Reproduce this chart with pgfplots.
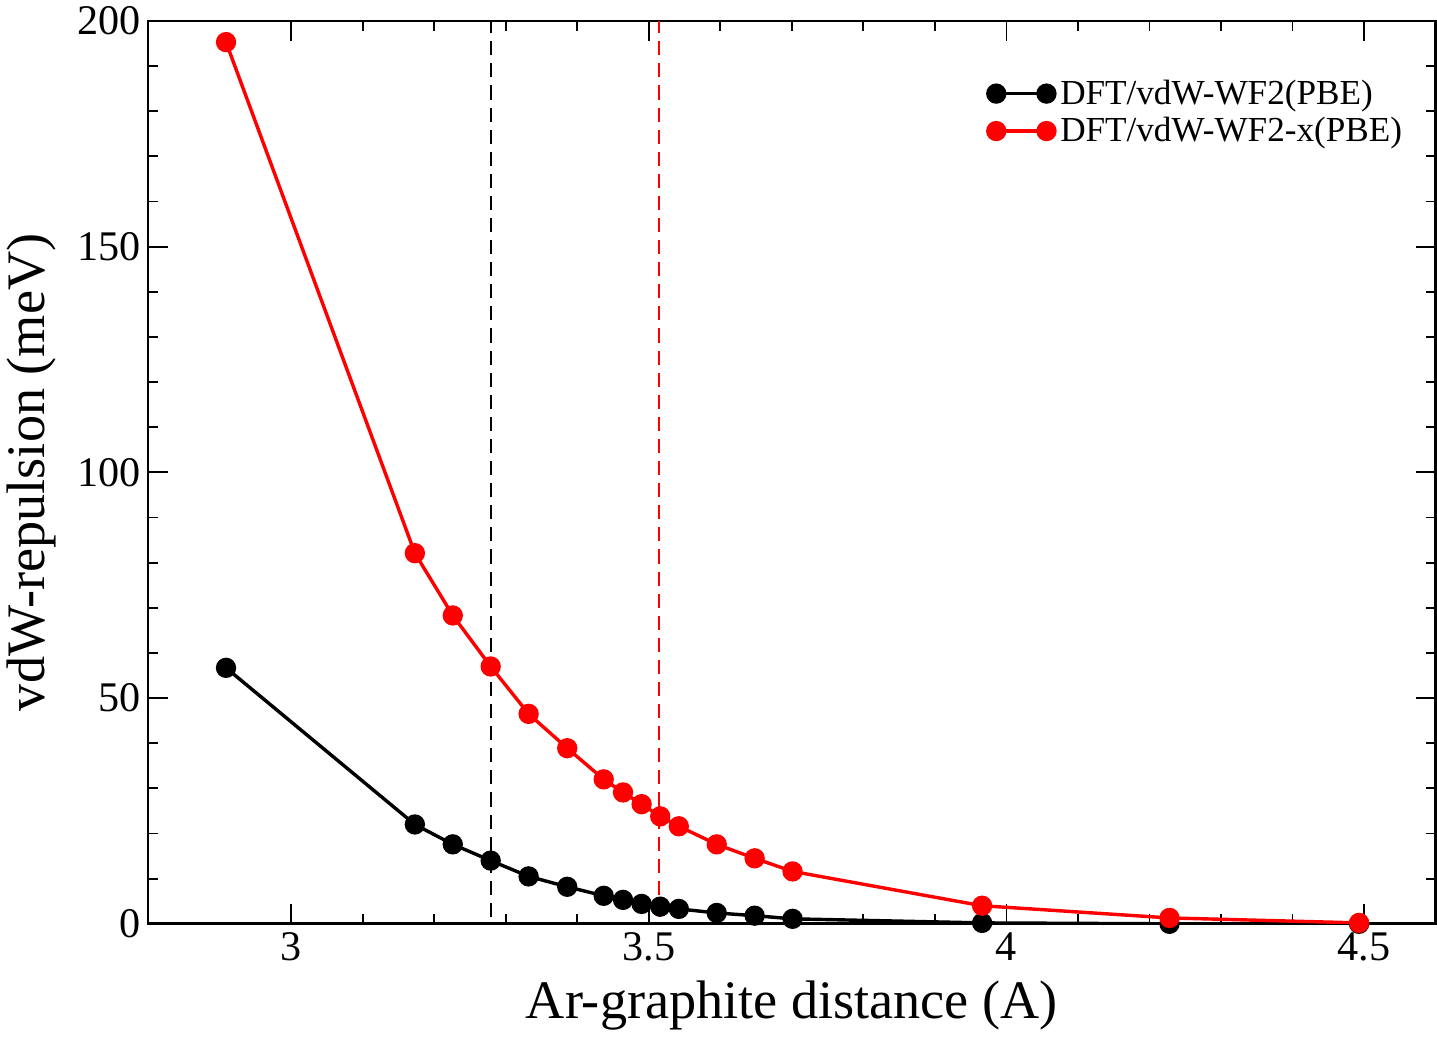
\documentclass[border=0pt]{standalone}
\usepackage{fontspec}
\setmainfont{Liberation Serif}
\usepackage{pgfplots}
\pgfplotsset{compat=1.18}

\begin{document}
\begin{tikzpicture}
\begin{axis}[
    scale only axis,
    width=641pt, height=449.5pt,
    xmin=2.8, xmax=4.6,
    ymin=0, ymax=200,
    xtick={3,3.5,4,4.5},
    minor x tick num=4,
    ytick={0,50,100,150,200},
    minor y tick num=4,
    tick align=inside,
    major tick length=10pt,
    minor tick length=5pt,
    tick style={line width=0.9pt, black},
    axis line style={line width=1.4pt},
    /pgf/number format/assume math mode=true,
    xticklabel={\pgfmathprintnumber{\tick}},
    yticklabel={\pgfmathprintnumber{\tick}},
    ticklabel style={font=\fontsize{21}{25}\selectfont},
    xticklabel style={yshift=-1pt},
    xlabel={Ar-graphite distance (A)},
    ylabel={vdW-repulsion (meV)},
    label style={font=\fontsize{27}{32}\selectfont},
    xlabel style={yshift=-3pt},
    ylabel style={yshift=4pt},
    legend style={draw=none, fill=none, at={(0.982,0.944)}, anchor=north east,
        font=\fontsize{17.5}{21}\selectfont, row sep=1pt},
    legend cell align=left,
    legend image code/.code={\draw[#1] plot coordinates {(0pt,0pt) (25pt,0pt)};
        \path (29pt,0pt);},
]

\addplot[black, line width=1.7pt, mark=*, mark size=4.2pt] coordinates {
    (2.909, 56.7)
    (3.173, 22.0)
    (3.226, 17.6)
    (3.279, 14.0)
    (3.332, 10.5)
    (3.386, 8.2)
    (3.437, 6.2)
    (3.464, 5.3)
    (3.490, 4.4)
    (3.516, 3.8)
    (3.542, 3.3)
    (3.595, 2.4)
    (3.648, 1.8)
    (3.701, 1.1)
    (3.966, 0.2)
    (4.228, 0.0)
    (4.493, 0.0)
};
\addlegendentry{DFT/vdW-WF2(PBE)}

\addplot[red, line width=1.7pt, mark=*, mark size=4.2pt] coordinates {
    (2.909, 195.3)
    (3.173, 82.1)
    (3.226, 68.3)
    (3.279, 57.0)
    (3.332, 46.5)
    (3.386, 38.9)
    (3.437, 32.0)
    (3.464, 29.1)
    (3.490, 26.5)
    (3.516, 23.8)
    (3.542, 21.6)
    (3.595, 17.6)
    (3.648, 14.5)
    (3.701, 11.6)
    (3.966, 4.0)
    (4.228, 1.3)
    (4.493, 0.2)
};
\addlegendentry{DFT/vdW-WF2-x(PBE)}

\addplot[black, line width=1pt, dash pattern=on 7pt off 4pt, forget plot] coordinates {
    (3.279, 1.5) (3.279, 200)
};
\addplot[red, line width=1pt, dash pattern=on 7pt off 4pt, forget plot] coordinates {
    (3.514, 1.5) (3.514, 200)
};

\end{axis}
\end{tikzpicture}
\end{document}
